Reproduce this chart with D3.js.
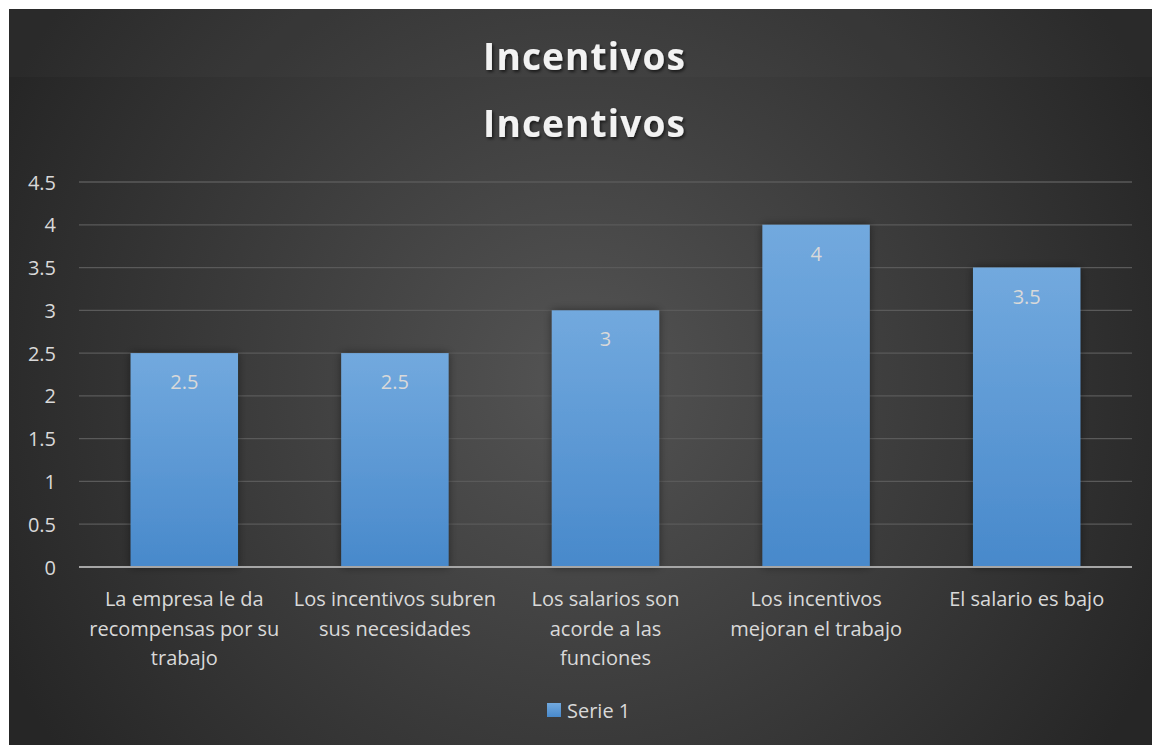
<!DOCTYPE html>
<html><head><meta charset="utf-8">
<script src="https://cdn.jsdelivr.net/npm/d3@7"></script>
<style>html,body{margin:0;padding:0;background:#fff;}svg{display:block;}</style>
</head><body>
<script>
const categories = ["La empresa le da\nrecompensas por su\ntrabajo","Los incentivos subren\nsus necesidades","Los salarios son\nacorde a las\nfunciones","Los incentivos\nmejoran el trabajo","El salario es bajo"];
const values = [2.5, 2.5, 3, 4, 3.5];
const yTicks = [0, 0.5, 1, 1.5, 2, 2.5, 3, 3.5, 4, 4.5];
const titleText = "Incentivos";
const seriesName = "Serie 1";

const W = 1153, H = 745;
const svg = d3.select("body").append("svg").attr("width", W).attr("height", H);
const defs = svg.append("defs");

const bg = defs.append("radialGradient").attr("id","bg").attr("gradientUnits","userSpaceOnUse")
  .attr("cx",580).attr("cy",380).attr("r",640);
bg.append("stop").attr("offset","0%").attr("stop-color","#545454");
bg.append("stop").attr("offset","100%").attr("stop-color","#262626");

const bar = defs.append("linearGradient").attr("id","bar").attr("x1",0).attr("y1",0).attr("x2",0).attr("y2",1);
bar.append("stop").attr("offset","0%").attr("stop-color","#72a9de");
bar.append("stop").attr("offset","100%").attr("stop-color","#4889cb");

const sh = defs.append("filter").attr("id","sh").attr("x","-20%").attr("y","-20%").attr("width","140%").attr("height","140%");
sh.append("feDropShadow").attr("dx",0).attr("dy",0).attr("stdDeviation",4).attr("flood-color","#000").attr("flood-opacity",0.45);

const tsh = defs.append("filter").attr("id","tsh").attr("x","-10%").attr("y","-20%").attr("width","120%").attr("height","150%");
tsh.append("feDropShadow").attr("dx",1.5).attr("dy",2).attr("stdDeviation",1.5).attr("flood-color","#000").attr("flood-opacity",0.6);

svg.append("rect").attr("x",9).attr("y",9).attr("width",W-10).attr("height",H-9).attr("fill","url(#bg)");
svg.append("rect").attr("x",9).attr("y",9).attr("width",W-10).attr("height",68).attr("fill","#fff").attr("opacity",0.02);

const font = "'Open Sans', sans-serif";
const fs = 20;
const txt = "#d9d9d9";

// titles
[70, 137].forEach(yb => {
  svg.append("text").attr("x",584).attr("y",yb).attr("text-anchor","middle")
    .attr("font-family","'Open Sans', sans-serif").attr("font-weight","bold").attr("font-size",37)
    .attr("fill","#f2f2f2").attr("filter","url(#tsh)")
    .attr("textLength",202).attr("lengthAdjust","spacing").text(titleText);
});

const x = d3.scaleBand().domain(categories).range([79, 1132]).paddingInner(0.49).paddingOuter(0.245);
const y = d3.scaleLinear().domain([0, 4.5]).range([567, 182]);

// gridlines
svg.append("g").selectAll("line").data(yTicks.filter(d => d > 0)).join("line")
  .attr("x1",79).attr("x2",1132).attr("y1",d=>y(d)).attr("y2",d=>y(d))
  .attr("stroke","#5a5a5a").attr("stroke-width",1.3);

// y axis labels
const yAxis = d3.axisLeft(y).tickValues(yTicks).tickSize(0).tickPadding(0).tickFormat(d3.format("~g"));
const ya = svg.append("g").attr("transform","translate(56,0)").call(yAxis);
ya.select(".domain").remove();
ya.selectAll("text").attr("font-family",font).attr("font-size",fs).attr("fill",txt).attr("dy","0.35em");

// bars
svg.append("g").selectAll("rect").data(values).join("rect")
  .attr("x",(d,i)=>x(categories[i])).attr("width",x.bandwidth())
  .attr("y",d=>y(d)).attr("height",d=>y(0)-y(d))
  .attr("fill","url(#bar)").attr("filter","url(#sh)");

// value labels
svg.append("g").selectAll("text").data(values).join("text")
  .attr("x",(d,i)=>x(categories[i])+x.bandwidth()/2).attr("y",d=>y(d)+36)
  .attr("text-anchor","middle").attr("font-family",font).attr("font-size",fs).attr("fill",txt)
  .text(d=>d3.format("~g")(d));

// x axis line
svg.append("line").attr("x1",79).attr("x2",1132).attr("y1",567).attr("y2",567)
  .attr("stroke","#a6a6a6").attr("stroke-width",2);

// category labels
const xg = svg.append("g");
categories.forEach(c => {
  const cx = x(c) + x.bandwidth()/2;
  const t = xg.append("text").attr("text-anchor","middle")
    .attr("font-family",font).attr("font-size",fs).attr("fill",txt);
  c.split("\n").forEach((l,i) => t.append("tspan").attr("x",cx).attr("y",606+i*29.5).text(l));
});

// legend
svg.append("rect").attr("x",547).attr("y",703).attr("width",14).attr("height",14).attr("fill","url(#bar)");
svg.append("text").attr("x",567).attr("y",717.5).attr("font-family",font).attr("font-size",fs).attr("fill",txt).text(seriesName);
</script>
</body></html>
